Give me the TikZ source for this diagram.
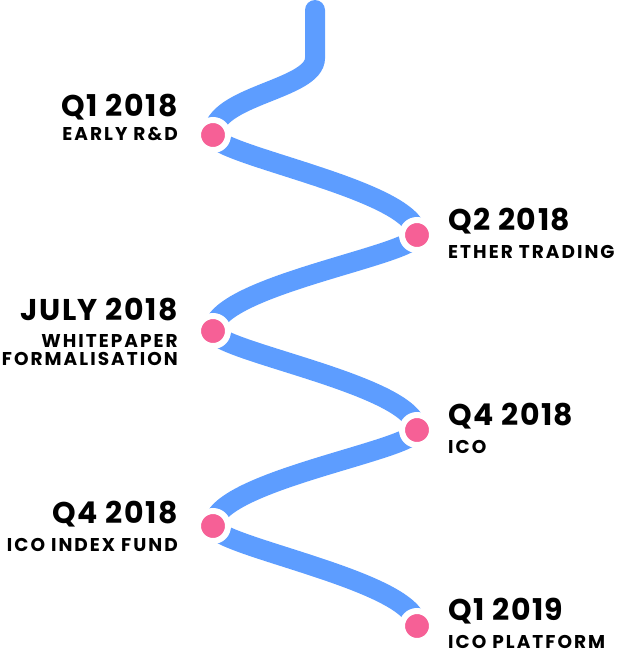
\documentclass[tikz,border=0pt]{standalone}
\usepackage{fontspec}
\setmainfont{Poppins}
\usepackage{tikz}
\usetikzlibrary{positioning}
\definecolor{roadblue}{RGB}{93,157,255}
\definecolor{dotpink}{RGB}{246,96,150}
\tikzset{
	road/.style={line width=20pt,color=roadblue,line cap=round},
	milestone/.style={circle,fill=dotpink,draw=white,line width=6pt,minimum size=30pt,inner sep=0pt},
	title/.style={inner sep=0pt,font=\fontsize{30}{31}\selectfont\bfseries\addfontfeature{LetterSpace=5}},
	subtitle/.style={inner sep=0pt,font=\fontsize{18.5}{20}\selectfont\bfseries\addfontfeature{LetterSpace=11}},
	left label/.style={anchor=base east},
	right label/.style={anchor=base west}
}

\begin{document}
\begin{tikzpicture}[x=1pt,y=-1pt]
        \useasboundingbox (0,0) rectangle (618,653);

        % ==================================================
        % 1. POINTS OF THE ROAD
        % ==================================================
        \coordinate (start) at (315,10);
        \coordinate (bend)  at (315,58);
        \coordinate (p1) at (213,135);
        \coordinate (p2) at (417,235);
        \coordinate (p3) at (213,331);
        \coordinate (p4) at (417,430);
        \coordinate (p5) at (213,526);
        \coordinate (p6) at (417,626);

        % ==================================================
        % 2. THE WINDING ROAD
        % ==================================================
        \draw[road] (start) -- (bend)
            .. controls +(0,32) and +(0,-40) .. (p1)
            .. controls +(0,20) and +(0,-45) .. (p2)
            .. controls +(0,20) and +(0,-45) .. (p3)
            .. controls +(0,20) and +(0,-45) .. (p4)
            .. controls +(0,20) and +(0,-45) .. (p5)
            .. controls +(0,20) and +(0,-45) .. (p6);

        % ==================================================
        % 3. MILESTONES
        % ==================================================
        \node[milestone] (m1) at (p1) {};
        \node[milestone] (m2) at (p2) {};
        \node[milestone] (m3) at (p3) {};
        \node[milestone] (m4) at (p4) {};
        \node[milestone] (m5) at (p5) {};
        \node[milestone] (m6) at (p6) {};

        % ==================================================
        % 4. LABELS
        % ==================================================
        % Left side
        \node[title,left label] (t1) at (178,116) {Q1 2018};
        \node[subtitle,left label] (s1) at (178,140) {EARLY R\&D};

        \node[title,left label] (t3) at (178,320) {JULY 2018};
        \node[subtitle,left label] (s3) at (178,347) {WHITEPAPER};
        \node[subtitle,left label] (s3b) at (178,365) {FORMALISATION};

        \node[title,left label] (t5) at (178,523) {Q4 2018};
        \node[subtitle,left label] (s5) at (178,551) {ICO INDEX FUND};

        % Right side
        \node[title,right label] (t2) at (448,230) {Q2 2018};
        \node[subtitle,right label] (s2) at (448,258) {ETHER TRADING};

        \node[title,right label] (t4) at (448,425) {Q4 2018};
        \node[subtitle,right label] (s4) at (448,453) {ICO};

        \node[title,right label] (t6) at (448,620) {Q1 2019};
        \node[subtitle,right label] (s6) at (448,648) {ICO PLATFORM};

    \end{tikzpicture}
\end{document}
